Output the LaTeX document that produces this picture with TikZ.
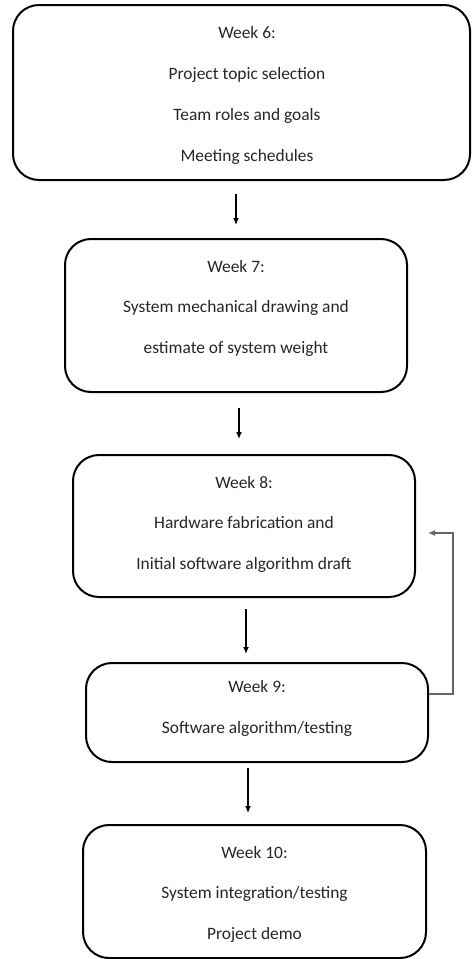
\documentclass[tikz,border=0pt]{standalone}
\usepackage{fontspec}
\setmainfont{Carlito}
\usetikzlibrary{arrows.meta,calc}
\tikzset{
  stagebox/.style={draw=black, line width=2pt, rounded corners=26pt, align=center,
    font=\fontsize{17.4}{40.7}\selectfont, text=black!85, inner sep=0pt, text depth=0pt},
  arr/.style={line width=1.3pt, -{Latex[length=7pt,width=6pt]}},
  backarr/.style={draw=black!60, line width=1.3pt, -{Latex[length=7pt,width=6pt]}}
}
\begin{document}
\begin{tikzpicture}[x=1pt,y=-1pt]
\useasboundingbox (0,0) rectangle (472,959);
\node[stagebox, minimum width=457pt, minimum height=175pt, text height=137pt] (b1) at (241.5,92.5)
  {\hspace*{11pt}Week 6:\\\hspace*{11pt}Project topic selection\\\hspace*{11pt}Team roles and goals\\\hspace*{11pt}Meeting schedules};
\node[stagebox, minimum width=342pt, minimum height=153pt, text height=76pt] (b2) at (236,315.5)
  {Week 7:\\System mechanical drawing and\\estimate of system weight};
\node[stagebox, minimum width=342pt, minimum height=142pt, text height=87pt] (b3) at (244,526)
  {Week 8:\\Hardware fabrication and\\Initial software algorithm draft};
\node[stagebox, minimum width=342pt, minimum height=99pt, text height=42pt] (b4) at (257,712.5)
  {Week 9:\\Software algorithm/testing};
\node[stagebox, minimum width=343pt, minimum height=133pt, text height=96pt] (b5) at (254.5,891.5)
  {Week 10:\\System integration/testing\\Project demo};
\draw[arr] ($(b1.south)+(-5.5,13)$) -- ($(b2.north)+(0,-13)$);
\draw[arr] ($(b2.south)+(3,15)$) -- ($(b3.north)+(-5,-15)$);
\draw[arr] ($(b3.south)+(2,11)$) -- ($(b4.north)+(-11,-8)$);
\draw[arr] ($(b4.south)+(-9,5)$) -- ($(b5.north)+(-6.5,-11)$);
\coordinate (fbtop) at ($(b3.east)+(37,7)$);
\draw[backarr] ($(b4.east)+(0,-18.5)$) -| (fbtop) -- ($(b3.east)+(12,7)$);
\end{tikzpicture}
\end{document}
